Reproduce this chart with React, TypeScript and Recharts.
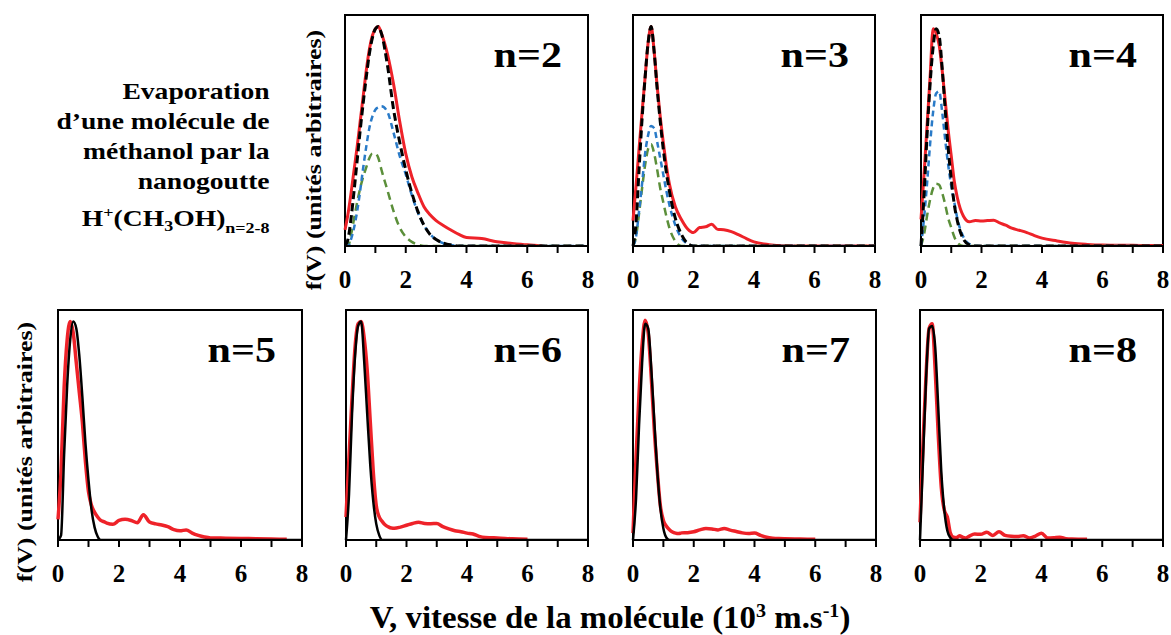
import React from "react";
import { LineChart, Line, XAxis, YAxis, ReferenceArea } from "recharts";

// vitesse (10^3 m/s), grille des panneaux du haut
const X_TOP = [0, 0.1, 0.2, 0.3, 0.4, 0.5, 0.6, 0.7, 0.8, 0.9, 1.0, 1.1, 1.2, 1.4, 1.6, 1.8, 2.0, 2.2, 2.4, 2.6, 2.8, 3.0, 3.25, 3.5, 3.75, 4.0, 4.5, 5.0, 5.5, 6.0, 6.5, 7.0, 7.5, 8.0];

// n=2
const RED_2 = [0.07, 0.14, 0.23, 0.33, 0.43, 0.54, 0.65, 0.76, 0.85, 0.91, 0.94, 0.95, 0.92, 0.83, 0.7, 0.54, 0.4, 0.3, 0.23, 0.17, 0.135, 0.11, 0.088, 0.068, 0.05, 0.037, 0.032, 0.018, 0.011, 0.005, 0.001, null, null, null];
const SUM_2 = [0, 0.03, 0.12, 0.24, 0.37, 0.5, 0.62, 0.73, 0.83, 0.9, 0.94, 0.95, 0.92, 0.78, 0.59, 0.45, 0.33, 0.23, 0.15, 0.09, 0.05, 0.028, 0.012, 0.004, 0, 0, 0, 0, 0, 0, 0, 0, 0, 0];
const BLUE_2 = [0, 0, 0.03, 0.08, 0.15, 0.24, 0.34, 0.43, 0.51, 0.56, 0.59, 0.6, 0.605, 0.58, 0.49, 0.39, 0.31, 0.22, 0.145, 0.09, 0.052, 0.028, 0.011, 0.004, 0, 0, 0, 0, 0, 0, 0, 0, 0, 0];
const GREEN_2 = [0, 0, 0.05, 0.12, 0.19, 0.25, 0.3, 0.34, 0.38, 0.4, 0.4, 0.38, 0.33, 0.24, 0.15, 0.08, 0.04, 0.018, 0.006, 0, 0, 0, 0, 0, 0, 0, 0, 0, 0, 0, 0, 0, 0, 0];

// n=3
const RED_3 = [0.11, 0.26, 0.42, 0.58, 0.73, 0.88, 0.95, 0.84, 0.69, 0.56, 0.45, 0.35, 0.27, 0.17, 0.115, 0.075, 0.058, 0.08, 0.083, 0.094, 0.072, 0.07, 0.062, 0.048, 0.032, 0.018, 0.006, 0.001, 0, 0, 0, 0, 0, 0];
const SUM_3 = [0, 0.1, 0.33, 0.55, 0.73, 0.88, 0.95, 0.84, 0.68, 0.54, 0.42, 0.32, 0.24, 0.12, 0.05, 0.012, 0, 0, 0, 0, 0, 0, 0, 0, 0, 0, 0, 0, 0, 0, 0, 0, 0, 0];
const BLUE_3 = [0, 0.04, 0.15, 0.27, 0.4, 0.48, 0.52, 0.51, 0.45, 0.38, 0.31, 0.24, 0.18, 0.09, 0.035, 0.01, 0, 0, 0, 0, 0, 0, 0, 0, 0, 0, 0, 0, 0, 0, 0, 0, 0, 0];
const GREEN_3 = [0, 0.04, 0.14, 0.25, 0.35, 0.42, 0.44, 0.4, 0.33, 0.25, 0.19, 0.13, 0.08, 0.02, 0, 0, 0, 0, 0, 0, 0, 0, 0, 0, 0, 0, 0, 0, 0, 0, 0, 0, 0, 0];

// n=4
const RED_4 = [0.115, 0.31, 0.52, 0.73, 0.94, 0.92, 0.87, 0.76, 0.63, 0.5, 0.39, 0.28, 0.21, 0.13, 0.105, 0.11, 0.108, 0.11, 0.112, 0.1, 0.09, 0.077, 0.068, 0.058, 0.045, 0.034, 0.022, 0.012, 0.007, 0.004, 0.003, 0.003, 0.002, 0.002];
const SUM_4 = [0, 0.22, 0.48, 0.7, 0.86, 0.94, 0.91, 0.77, 0.59, 0.42, 0.29, 0.18, 0.11, 0.03, 0.005, 0, 0, 0, 0, 0, 0, 0, 0, 0, 0, 0, 0, 0, 0, 0, 0, 0, 0, 0];
const BLUE_4 = [0, 0.12, 0.27, 0.44, 0.58, 0.66, 0.67, 0.58, 0.46, 0.35, 0.26, 0.19, 0.12, 0.04, 0.008, 0, 0, 0, 0, 0, 0, 0, 0, 0, 0, 0, 0, 0, 0, 0, 0, 0, 0, 0];
const GREEN_4 = [0, 0.05, 0.13, 0.2, 0.25, 0.27, 0.265, 0.23, 0.18, 0.12, 0.08, 0.04, 0.015, 0, 0, 0, 0, 0, 0, 0, 0, 0, 0, 0, 0, 0, 0, 0, 0, 0, 0, 0, 0, 0];

// grille des panneaux du bas
const X_BOT = [0, 0.1, 0.2, 0.3, 0.4, 0.5, 0.6, 0.7, 0.8, 0.9, 1.0, 1.1, 1.2, 1.3, 1.4, 1.5, 1.6, 1.8, 2.0, 2.2, 2.4, 2.6, 2.8, 3.0, 3.2, 3.4, 3.6, 3.8, 4.0, 4.2, 4.4, 4.6, 4.8, 5.0, 5.5, 6.0, 6.5, 7.0, 7.5, 8.0];

const RED_5 = [0.09, 0.3, 0.66, 0.87, 0.95, 0.9, 0.77, 0.64, 0.51, 0.34, 0.21, 0.15, 0.12, 0.1, 0.085, 0.08, 0.073, 0.068, 0.085, 0.09, 0.085, 0.075, 0.11, 0.078, 0.07, 0.065, 0.058, 0.045, 0.04, 0.044, 0.03, 0.02, 0.013, 0.009, 0.008, 0.007, 0.005, 0.004, 0.003, null];
const FIT_5 = [0, 0.02, 0.37, 0.67, 0.87, 0.95, 0.92, 0.8, 0.62, 0.42, 0.26, 0.13, 0.055, 0.015, 0, 0, 0, 0, 0, 0, 0, 0, 0, 0, 0, 0, 0, 0, 0, 0, 0, 0, 0, 0, 0, 0, 0, 0, 0, 0];

const RED_6 = [0.1, 0.36, 0.62, 0.84, 0.94, 0.95, 0.88, 0.74, 0.52, 0.3, 0.15, 0.1, 0.08, 0.065, 0.057, 0.052, 0.051, 0.056, 0.064, 0.072, 0.077, 0.072, 0.071, 0.072, 0.058, 0.048, 0.04, 0.036, 0.03, 0.026, 0.016, 0.011, 0.01, 0.009, 0.005, 0.003, null, null, null, null];
const FIT_6 = [0, 0.2, 0.55, 0.8, 0.93, 0.95, 0.78, 0.55, 0.33, 0.17, 0.07, 0.02, 0, 0, 0, 0, 0, 0, 0, 0, 0, 0, 0, 0, 0, 0, 0, 0, 0, 0, 0, 0, 0, 0, 0, 0, 0, 0, 0, 0];

const RED_7 = [0.03, 0.36, 0.64, 0.85, 0.955, 0.9, 0.71, 0.48, 0.3, 0.15, 0.085, 0.06, 0.045, 0.035, 0.03, 0.028, 0.031, 0.032, 0.036, 0.044, 0.05, 0.048, 0.044, 0.05, 0.043, 0.037, 0.031, 0.028, 0.03, 0.02, 0.012, 0.008, 0.006, 0.005, 0.004, 0.003, null, null, null, null];
const FIT_7 = [0, 0.18, 0.5, 0.77, 0.94, 0.92, 0.75, 0.52, 0.3, 0.14, 0.05, 0.01, 0, 0, 0, 0, 0, 0, 0, 0, 0, 0, 0, 0, 0, 0, 0, 0, 0, 0, 0, 0, 0, 0, 0, 0, 0, 0, 0, 0];

const RED_8 = [0.077, 0.42, 0.72, 0.92, 0.94, 0.74, 0.46, 0.23, 0.13, 0.1, 0.03, 0.012, 0.01, 0.019, 0.012, 0.009, 0.015, 0.026, 0.025, 0.034, 0.02, 0.036, 0.02, 0.016, 0.015, 0.019, 0.009, 0.017, 0.029, 0.009, 0.01, 0.012, 0.006, 0.004, 0.003, null, null, null, null, null];
const FIT_8 = [0, 0.35, 0.7, 0.92, 0.93, 0.84, 0.58, 0.3, 0.13, 0.04, 0.01, 0, 0, 0, 0, 0, 0, 0, 0, 0, 0, 0, 0, 0, 0, 0, 0, 0, 0, 0, 0, 0, 0, 0, 0, 0, 0, 0, 0, 0];

const TICKS = [0, 1, 2, 3, 4, 5, 6, 7, 8];

const RED = "#ee2229";
const BLUE = "#2a7bc8";
const GREEN = "#5b8f3a";
const BLACK = "#000";
const SERIF = '"Liberation Serif", "Times New Roman", serif';

type Serie = { values: (number | null)[]; color: string; width: number; dash?: string };

type PanelProps = {
  label: string;
  x: number[];
  series: Serie[];
  left: number;
  right: number;
  top: number;
  bottom: number;
};

function Panel({ label, x, series, left, right, top, bottom }: PanelProps) {
  const ML = 20, MR = 20, MT = 10, XH = 50;
  const w = right - left;
  const h = bottom - top;
  const data = x.map((v, i) => {
    const row: Record<string, number | null> = { v };
    series.forEach((s, j) => {
      row["s" + j] = s.values[i];
    });
    return row;
  });

  return (
    <>
      <div style={{ position: "absolute", left: left - ML, top: top - MT }}>
        <LineChart width={w + ML + MR} height={h + MT + XH} data={data} margin={{ top: MT, right: MR, bottom: 0, left: ML }}>
          <XAxis
            dataKey="v"
            type="number"
            domain={[0, 8]}
            ticks={TICKS}
            interval={0}
            tickFormatter={(v: number) => (v % 2 === 0 ? String(v) : "")}
            height={XH}
            tickSize={7}
            tickMargin={17}
            axisLine={{ stroke: "#000", strokeWidth: 2 }}
            tickLine={{ stroke: "#000", strokeWidth: 2 }}
            tick={{ fill: "#000", fontSize: 25, fontWeight: 700, fontFamily: SERIF }}
          />
          <YAxis type="number" domain={[0, 1]} hide allowDataOverflow />
          <ReferenceArea x1={0} x2={8} y1={0} y2={1} fill="none" fillOpacity={0} stroke="#000" strokeWidth={2} />
          {series.map((s, j) => (
            <Line
              key={j}
              dataKey={"s" + j}
              type="monotone"
              stroke={s.color}
              strokeWidth={s.width}
              strokeDasharray={s.dash}
              dot={false}
              activeDot={false}
              isAnimationActive={false}
            />
          ))}
        </LineChart>
      </div>
      <div
        style={{
          position: "absolute",
          right: 1171 - (right - 26),
          top: top + 52 - 29,
          fontSize: 35,
          fontWeight: 700,
          lineHeight: 1,
          whiteSpace: "nowrap",
          transform: "scaleX(1.2)",
          transformOrigin: "right",
        }}
      >
        {label}
      </div>
    </>
  );
}

const topSeries = (red: (number | null)[], sum: number[], blue: number[], green: number[]): Serie[] => [
  { values: red, color: RED, width: 3 },
  { values: green, color: GREEN, width: 2.5, dash: "8 5" },
  { values: blue, color: BLUE, width: 2.5, dash: "6 4" },
  { values: sum, color: BLACK, width: 3, dash: "8 4" },
];

const botSeries = (red: (number | null)[], fit: number[]): Serie[] => [
  { values: red, color: RED, width: 3.5 },
  { values: fit, color: BLACK, width: 2.5 },
];

function YLabel({ cx, cy }: { cx: number; cy: number }) {
  return (
    <div
      style={{
        position: "absolute",
        left: cx - 150,
        top: cy - 15,
        width: 300,
        height: 30,
        lineHeight: "30px",
        textAlign: "center",
        fontSize: 22,
        fontWeight: 700,
        whiteSpace: "nowrap",
        transform: "rotate(-90deg) scaleX(1.18)",
      }}
    >
      f(V) (unités arbitraires)
    </div>
  );
}

export default function App() {
  return (
    <div style={{ position: "relative", width: 1171, height: 635, background: "#fff", fontFamily: SERIF, color: "#000", overflow: "hidden" }}>
      <style>{"body{margin:0}"}</style>

      <div
        style={{
          position: "absolute",
          right: 1171 - 270,
          top: 77,
          fontSize: 23,
          fontWeight: 700,
          lineHeight: "30px",
          textAlign: "right",
          whiteSpace: "nowrap",
          transform: "scaleX(1.2)",
          transformOrigin: "right",
        }}
      >
        <div>Evaporation</div>
        <div>d’une molécule de</div>
        <div>méthanol par la</div>
        <div>nanogoutte</div>
        <div style={{ marginTop: 7 }}>
          H<span style={{ fontSize: 15, verticalAlign: 9, lineHeight: 0 }}>+</span>(CH
          <span style={{ fontSize: 15, verticalAlign: -5, lineHeight: 0 }}>3</span>OH)
          <span style={{ fontSize: 15, verticalAlign: -7, lineHeight: 0 }}>n=2-8</span>
        </div>
      </div>

      <YLabel cx={314} cy={160} />
      <YLabel cx={25} cy={452} />

      <Panel label="n=2" x={X_TOP} series={topSeries(RED_2, SUM_2, BLUE_2, GREEN_2)} left={345} right={588} top={15} bottom={246} />
      <Panel label="n=3" x={X_TOP} series={topSeries(RED_3, SUM_3, BLUE_3, GREEN_3)} left={633} right={875} top={15} bottom={246} />
      <Panel label="n=4" x={X_TOP} series={topSeries(RED_4, SUM_4, BLUE_4, GREEN_4)} left={921} right={1163} top={15} bottom={246} />

      <Panel label="n=5" x={X_BOT} series={botSeries(RED_5, FIT_5)} left={58} right={302} top={310} bottom={540} />
      <Panel label="n=6" x={X_BOT} series={botSeries(RED_6, FIT_6)} left={346} right={588} top={310} bottom={540} />
      <Panel label="n=7" x={X_BOT} series={botSeries(RED_7, FIT_7)} left={633} right={876} top={310} bottom={540} />
      <Panel label="n=8" x={X_BOT} series={botSeries(RED_8, FIT_8)} left={920} right={1163} top={310} bottom={540} />

      <div
        style={{
          position: "absolute",
          left: 610 - 400,
          width: 800,
          top: 602,
          textAlign: "center",
          fontSize: 31,
          fontWeight: 700,
          lineHeight: 1,
          whiteSpace: "nowrap",
          transform: "scaleX(1.06)",
        }}
      >
        V, vitesse de la molécule (10<sup style={{ fontSize: 19, lineHeight: 0 }}>3</sup> m.s<sup style={{ fontSize: 19, lineHeight: 0 }}>-1</sup>)
      </div>
    </div>
  );
}
